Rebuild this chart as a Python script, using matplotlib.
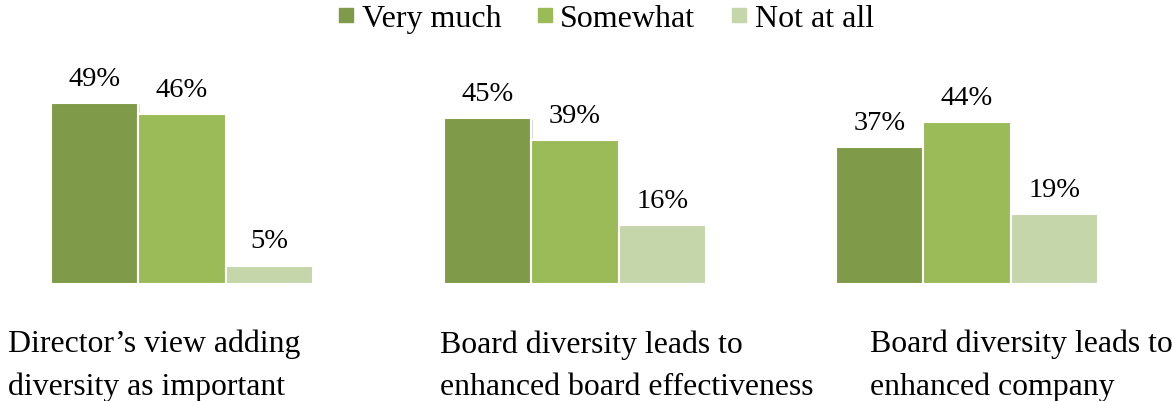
import matplotlib
matplotlib.use('Agg')
import matplotlib.pyplot as plt
from matplotlib.lines import Line2D
import matplotlib.patheffects as pe

plt.rcParams['font.family'] = ['Liberation Serif', 'DejaVu Serif']

# survey results per statement
series = ['Very much', 'Somewhat', 'Not at all']
colors = ['#7F9A48', '#9BBB59', '#C5D6AB']
statements = [
    'Director\u2019s view adding\ndiversity as important',
    'Board diversity leads to\nenhanced board effectiveness',
    'Board diversity leads to\nenhanced company',
]
values = [
    [49, 46, 5],
    [45, 39, 16],
    [37, 44, 19],
]

W, H = 1172, 402
fig = plt.figure(figsize=(W / 100, H / 100), dpi=100)
fig.patch.set_facecolor('white')

panel_left = [51, 444, 836]
panel_width = 262
base_y = 285      # baseline, pixels from top
top_y = 60        # axes top, pixels from top
ymax = (base_y - top_y) / 3.69

text_x = [8, 440, 870]

for i, vals in enumerate(values):
    ax = fig.add_axes([panel_left[i] / W, (H - base_y) / H,
                       panel_width / W, (base_y - top_y) / H])
    bars = ax.bar(range(3), vals, width=1.0, color=colors,
                  edgecolor='white', linewidth=1.5)
    for b in bars:
        b.set_path_effects([pe.SimplePatchShadow(offset=(1.2, -1.2), shadow_rgbFace='#999999', alpha=0.35),
                            pe.Normal()])
    for j, v in enumerate(vals):
        ax.annotate(f'{v}%', (j, v), xytext=(0, 13), textcoords='offset points',
                    ha='center', va='baseline', fontsize=20.5, color='black')
    ax.set_xlim(-0.5, 2.5)
    ax.set_ylim(0, ymax)
    ax.axis('off')

    fig.text(text_x[i] / W, (H - 395) / H, statements[i], ha='left', va='baseline',
             fontsize=22.9, linespacing=1.6, color='black')

handles = [Line2D([], [], marker='s', linestyle='none', markersize=9.5,
                  markerfacecolor=c, markeredgecolor=c) for c in colors]
fig.legend(handles, series, loc='center', bbox_to_anchor=(606.5 / W, (H - 19) / H),
           ncol=3, frameon=False, fontsize=23, handlelength=0.45, handletextpad=0.25,
           columnspacing=1.15, borderpad=0, borderaxespad=0)

fig.savefig('out.png', dpi=100, facecolor='white')
